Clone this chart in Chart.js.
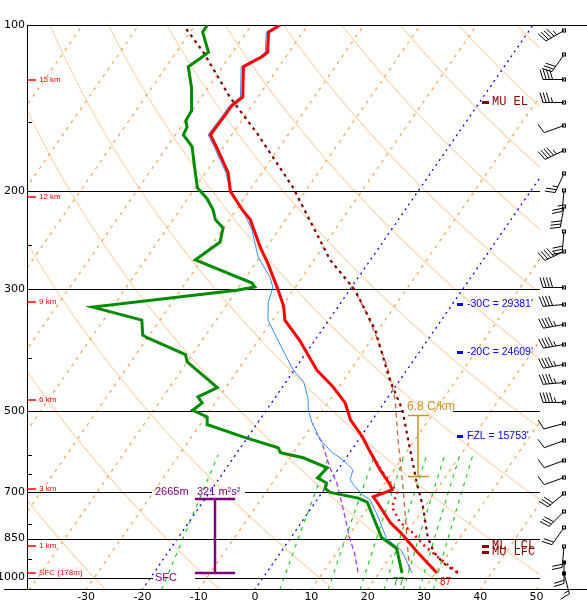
<!DOCTYPE html>
<html>
<head>
<meta charset="utf-8">
<script src="https://cdn.jsdelivr.net/npm/chart.js@4.4.1/dist/chart.umd.min.js"></script>
<style>
html, body { margin: 0; padding: 0; background: #fff; }
canvas { display: block; }
</style>
</head>
<body>
<canvas id="skewt" width="587" height="604"></canvas>
<script>
// skew-T geometry: x = T + SKEW * ln(P_REF / p)
var SKEW = 29.5, P_REF = 1050, P_TOP = 100, P_BOT = 1053;
function skew(t, p) { return t + SKEW * Math.log(P_REF / p); }

// axes
var xTicks = [-30, -20, -10, 0, 10, 20, 30, 40, 50];
var yTicks = [100, 200, 300, 500, 700, 850, 1000];
var minorP = [150, 250, 400, 600, 650, 800, 925];

// background lines
var isotherms = [-140, -130, -120, -110, -100, -90, -80, -70, -60, -50, -40, -30, -10, 10, 20, 30, 40, 50];
var keyIsotherms = [0, -20];
var dryAdiabats = [-30, -10, 10, 30, 50, 70, 90, 110, 130, 150, 170, 190, 210, 230];
var mixRatios = [1, 5, 9, 13, 17, 21, 25, 29];

// temperature
var tempP = [981, 900, 828, 795, 732, 714, 694, 680, 638, 594, 556, 518, 483, 452, 421, 372, 342, 323, 299, 270, 252, 225, 216, 200, 185, 167, 158, 145, 140, 135, 119, 114, 112, 103, 100];
var tempT = [30.3, 24.3, 18.8, 15.8, 11.1, 9.6, 12.1, 11.2, 7.5, 3.7, 0.3, -3.9, -6.9, -11.0, -16.0, -22.7, -27.8, -29.7, -33.1, -37.8, -41.2, -46.3, -48.9, -53.3, -56.0, -61.0, -63.8, -63.6, -63.6, -62.7, -66.3, -64.2, -63.8, -66.1, -64.9];

// dewpoint
var dewP = [981, 885, 846, 777, 730, 718, 701, 689, 674, 660, 633, 607, 594, 582, 557, 529, 512, 498, 483, 471, 453, 407, 395, 368, 364, 342, 324, 302, 298, 293, 266, 247, 233, 225, 216, 206, 197, 181, 166, 158, 153, 149, 143, 130, 119, 115, 112, 103, 100];
var dewT = [24.1, 20.1, 16.1, 12.1, 9.2, 7.1, 1.4, 0.0, -0.4, -2.6, -2.1, -7.6, -12.3, -13.3, -20.7, -28.6, -29.7, -33.1, -32.3, -33.8, -31.5, -40.0, -41.2, -50.1, -51.2, -53.2, -63.5, -40.0, -37.2, -38.2, -51.1, -48.9, -50.1, -52.5, -54.1, -56.6, -59.6, -62.6, -65.6, -68.6, -68.9, -69.9, -70.1, -72.9, -76.1, -75.0, -74.3, -77.8, -77.8];

// wet-bulb
var wetP = [981, 894, 850, 777, 723, 708, 679, 665, 638, 612, 594, 563, 524, 497, 476, 443, 421, 379, 342, 318, 298, 286, 263, 235, 222, 199, 185, 167, 158, 145, 140, 135, 119, 114, 112, 103, 100];
var wetT = [25.9, 21.3, 17.1, 13.0, 9.4, 7.4, 4.6, 3.4, 2.7, -0.3, -3.1, -6.8, -10.4, -12.6, -13.9, -16.8, -20.2, -25.6, -30.8, -32.9, -34.0, -35.7, -40.3, -44.7, -47.5, -53.5, -56.4, -61.4, -64.2, -64.0, -64.0, -63.1, -66.7, -64.6, -64.2, -66.5, -65.3];

// virtual temperature (low levels)
var virtP = [978, 917, 872, 827, 794, 745, 701, 646, 600];
var virtT = [33.9, 28.4, 24.4, 20.8, 17.5, 14.2, 13.3, 8.4, 4.3];

// most-unstable parcel
var parcelP = [981, 941, 900, 846, 745, 675, 606, 563, 497, 439, 356, 302, 266, 197, 157, 135, 112, 101];
var parcelT = [34.0, 30.2, 27.2, 24.3, 19.7, 15.7, 11.6, 8.8, 4.1, -1.8, -10.6, -19.0, -27.2, -42.6, -55.7, -65.0, -75.2, -81.5];

// second parcel (thin brown)
var parcel2P = [968, 846, 694, 563, 477, 421, 372, 328, 296];
var parcel2T = [25.0, 20.6, 14.1, 7.0, 1.6, -3.3, -8.8, -14.8, -20.2];

// downdraft parcel
var downP = [978, 905, 846, 754, 715, 675, 632, 569, 546];
var downT = [16.2, 13.3, 10.4, 5.9, 3.8, 1.5, -1.7, -6.2, -8.5];

// heights
var kmText = ['15 km', '12 km', '9 km', '6 km', '3 km', '1 km', 'SFC (178m)'];
var kmP = [126, 205, 317, 477, 691, 876, 981];

// winds
var windP = [102, 113, 125, 138, 152, 168, 185, 199, 213, 236, 256, 298, 320, 348, 378, 410, 442, 482, 525, 563, 612, 657, 702, 757, 810, 877, 937, 981];
var windDir = [240, 215, 270, 270, 250, 245, 205, 185, 190, 185, 245, 270, 265, 260, 260, 260, 265, 270, 255, 250, 250, 250, 230, 225, 215, 185, 180, 165];
var windSpd = [45, 30, 40, 35, 10, 45, 25, 25, 30, 30, 45, 40, 40, 45, 45, 45, 45, 45, 10, 10, 10, 10, 30, 30, 20, 20, 20, 15];

function series(ps, ts) {
    return ps.map(function (p, i) { return { x: skew(ts[i], p), y: p }; });
}

var SANS = 'Arial, "Liberation Sans", sans-serif';
var MONO = '"Liberation Mono", "Courier New", monospace';

function drawBarb(ctx, x0, y0, dir, spd, filled) {
    var L = 21, F = 10, S = 3.2;
    var r = dir * Math.PI / 180;
    var ux = Math.sin(r), uy = -Math.cos(r);
    var vx = -uy, vy = ux;
    var ex = x0 + ux * L, ey = y0 + uy * L;
    ctx.beginPath();
    ctx.moveTo(x0, y0);
    ctx.lineTo(ex, ey);
    var s = Math.round(spd / 5) * 5, d = 0;
    while (s >= 50) {
        ctx.moveTo(ex - ux * d, ey - uy * d);
        ctx.lineTo(ex - ux * d + vx * F + ux * 2, ey - uy * d + vy * F + uy * 2);
        ctx.lineTo(ex - ux * (d + 5), ey - uy * (d + 5));
        d += 6; s -= 50;
    }
    while (s >= 10) {
        ctx.moveTo(ex - ux * d, ey - uy * d);
        ctx.lineTo(ex - ux * d + vx * F + ux * 3, ey - uy * d + vy * F + uy * 3);
        d += S; s -= 10;
    }
    if (s >= 5) {
        if (d === 0) d = S;
        ctx.moveTo(ex - ux * d, ey - uy * d);
        ctx.lineTo(ex - ux * d + vx * F / 2 + ux * 1.5, ey - uy * d + vy * F / 2 + uy * 1.5);
    }
    ctx.stroke();
    if (filled) ctx.fillRect(x0 - 2, y0 - 2, 4, 4);
    else ctx.strokeRect(x0 - 1.5, y0 - 1.5, 3, 3);
}

var skewBackground = {
    id: 'skewBackground',
    beforeDatasetsDraw: function (chart) {
        var ctx = chart.ctx, a = chart.chartArea, xs = chart.scales.x, ys = chart.scales.y;
        function px(t, p) { return xs.getPixelForValue(skew(t, p)); }
        function py(p) { return ys.getPixelForValue(p); }
        ctx.save();
        ctx.beginPath();
        ctx.rect(a.left, a.top, a.right - a.left, a.bottom - a.top);
        ctx.clip();

        // dry adiabats
        ctx.strokeStyle = '#fdd9b8';
        ctx.lineWidth = 1.3;
        ctx.setLineDash([]);
        dryAdiabats.forEach(function (th) {
            ctx.beginPath();
            for (var i = 0; i <= 60; i++) {
                var p = P_TOP * Math.pow(P_BOT / P_TOP, i / 60);
                var t = (th + 273.15) * Math.pow(p / 1000, 0.2857) - 273.15;
                if (i) ctx.lineTo(px(t, p), py(p)); else ctx.moveTo(px(t, p), py(p));
            }
            ctx.stroke();
        });

        // isotherms
        ctx.strokeStyle = '#f8a048';
        ctx.lineWidth = 1.2;
        ctx.setLineDash([3, 5]);
        isotherms.forEach(function (t) {
            ctx.beginPath();
            ctx.moveTo(px(t, P_BOT), py(P_BOT));
            ctx.lineTo(px(t, P_TOP), py(P_TOP));
            ctx.stroke();
        });

        // mixing ratio lines
        ctx.strokeStyle = '#11cc11';
        ctx.lineWidth = 1.1;
        ctx.setLineDash([4, 5]);
        mixRatios.forEach(function (w) {
            ctx.beginPath();
            for (var i = 0; i <= 10; i++) {
                var p = P_BOT - (P_BOT - 600) * i / 10;
                var e = w * p / (622 + w);
                var l = Math.log(e / 6.112);
                var td = 243.5 * l / (17.67 - l);
                if (i) ctx.lineTo(px(td, p), py(p)); else ctx.moveTo(px(td, p), py(p));
            }
            ctx.stroke();
        });

        // 0 and -20 C isotherms
        ctx.strokeStyle = '#0000ff';
        ctx.lineWidth = 1.3;
        ctx.setLineDash([2, 4]);
        keyIsotherms.forEach(function (t) {
            ctx.beginPath();
            ctx.moveTo(px(t, P_BOT), py(P_BOT));
            ctx.lineTo(px(t, P_TOP), py(P_TOP));
            ctx.stroke();
        });
        ctx.restore();

        // isobars
        var gaps = { 500: [402, 453], 700: [152, 245], 1000: [153, 195] };
        ctx.save();
        ctx.strokeStyle = '#000';
        ctx.lineWidth = 1;
        ctx.setLineDash([]);
        yTicks.forEach(function (p) {
            if (p === 100) return;
            var y = Math.round(py(p)) + 0.5;
            ctx.beginPath();
            if (gaps[p]) {
                ctx.moveTo(a.left, y); ctx.lineTo(gaps[p][0], y);
                ctx.moveTo(gaps[p][1], y); ctx.lineTo(a.right, y);
            } else {
                ctx.moveTo(a.left, y); ctx.lineTo(a.right, y);
            }
            ctx.stroke();
        });
        // frame
        ctx.beginPath();
        ctx.moveTo(a.left, Math.round(a.top) + 0.5);
        ctx.lineTo(chart.width, Math.round(a.top) + 0.5);
        ctx.moveTo(a.left + 0.5, a.top);
        ctx.lineTo(a.left + 0.5, a.bottom);
        ctx.moveTo(4, Math.round(a.bottom) - 0.5);
        ctx.lineTo(chart.width, Math.round(a.bottom) - 0.5);
        ctx.stroke();
        minorP.forEach(function (p) {
            var y = Math.round(py(p)) + 0.5;
            ctx.beginPath();
            ctx.moveTo(a.left, y); ctx.lineTo(a.left + 5, y);
            ctx.stroke();
        });
        ctx.restore();
    }
};

var skewLabels = {
    id: 'skewLabels',
    afterDatasetsDraw: function (chart) {
        var ctx = chart.ctx, a = chart.chartArea, xs = chart.scales.x, ys = chart.scales.y;
        function px(t, p) { return xs.getPixelForValue(skew(t, p)); }
        function py(p) { return ys.getPixelForValue(p); }
        ctx.save();
        ctx.textBaseline = 'middle';
        ctx.textAlign = 'left';

        // height labels
        ctx.fillStyle = '#ff0000';
        ctx.strokeStyle = '#ff0000';
        ctx.lineWidth = 1.5;
        ctx.font = '8px ' + SANS;
        kmText.forEach(function (txt, i) {
            var y = Math.round(py(kmP[i]));
            ctx.beginPath();
            ctx.moveTo(a.left, y); ctx.lineTo(a.left + 9, y);
            ctx.stroke();
            ctx.fillText(txt, a.left + 12, y);
        });

        // freezing level / isotherm heights
        ctx.fillStyle = '#0000ff';
        ctx.font = '10.5px ' + SANS;
        [['-30C = 29381\'', 320], ['-20C = 24609\'', 390], ['FZL = 15753\'', 555]].forEach(function (l) {
            var y = Math.round(py(l[1]));
            ctx.fillRect(457, y - 1, 6, 3);
            ctx.fillText(l[0], 467, y);
        });

        // parcel levels
        ctx.fillStyle = '#8b0000';
        ctx.font = '12px ' + MONO;
        [['MU EL', 138], ['ML LCL', 876], ['MU LFC', 899]].forEach(function (l) {
            var y = Math.round(py(l[1]));
            ctx.fillRect(482, y - 1, 7, 3);
            ctx.fillText(l[0], 492, y);
        });

        // lapse rate bar
        ctx.strokeStyle = '#d09020';
        ctx.fillStyle = '#d09020';
        ctx.lineWidth = 1.5;
        var yt = Math.round(py(508)) + 0.5, yb = Math.round(py(655)) + 0.5;
        ctx.beginPath();
        ctx.moveTo(418, yt); ctx.lineTo(418, yb);
        ctx.moveTo(408, yt); ctx.lineTo(429, yt);
        ctx.moveTo(408, yb); ctx.lineTo(429, yb);
        ctx.stroke();
        ctx.font = '12px ' + SANS;
        ctx.fillText('6.8 C/km', 407, Math.round(py(492)));

        // storm relative helicity bar
        ctx.strokeStyle = '#800080';
        ctx.fillStyle = '#800080';
        ctx.lineWidth = 2.5;
        var st = Math.round(py(722)), sb = Math.round(py(981));
        ctx.beginPath();
        ctx.moveTo(215, st); ctx.lineTo(215, sb);
        ctx.moveTo(195, st); ctx.lineTo(235, st);
        ctx.moveTo(195, sb); ctx.lineTo(235, sb);
        ctx.stroke();
        ctx.font = '11px ' + SANS;
        ctx.fillText('2665m', 155, Math.round(py(700)));
        ctx.fillText('321 m\u00b2s\u00b2', 197, Math.round(py(700)));
        ctx.fillText('SFC', 155, Math.round(py(1000)));

        // surface values (F)
        ctx.font = '10px ' + SANS;
        ctx.fillStyle = '#ff0000';
        ctx.fillText('87', px(tempT[0], tempP[0]) + 3, Math.round(py(1000)) + 4);
        ctx.fillStyle = '#008800';
        ctx.fillText('77', px(dewT[0], dewP[0]) - 9, Math.round(py(1000)) + 4);

        // wind barbs
        ctx.strokeStyle = '#000';
        ctx.fillStyle = '#000';
        ctx.lineWidth = 1;
        var bx = a.right + 24;
        windP.forEach(function (p, i) {
            drawBarb(ctx, bx, Math.round(py(p)) + 0.5, windDir[i], windSpd[i], i >= windP.length - 2);
        });
        ctx.restore();
    }
};

var axisFont = { family: '"DejaVu Sans", sans-serif', size: 11 };

new Chart(document.getElementById('skewt').getContext('2d'), {
    type: 'scatter',
    data: {
        datasets: [
            { label: 'Temperature', data: series(tempP, tempT), borderColor: '#ff0000', borderWidth: 3, order: 1 },
            { label: 'Dewpoint', data: series(dewP, dewT), borderColor: '#008c00', borderWidth: 3, order: 2 },
            { label: 'Virtual temperature', data: series(virtP, virtT), borderColor: '#ff0000', borderWidth: 2.5, borderDash: [2, 4], order: 0 },
            { label: 'Wet-bulb', data: series(wetP, wetT), borderColor: '#2f8fff', borderWidth: 1, order: 3 },
            { label: 'MU parcel', data: series(parcelP, parcelT), borderColor: '#800000', borderWidth: 2.2, borderDash: [3, 4], order: 4 },
            { label: 'Parcel', data: series(parcel2P, parcel2T), borderColor: '#c8643c', borderWidth: 1.3, borderDash: [5, 4], order: 5 },
            { label: 'Downdraft', data: series(downP, downT), borderColor: '#9933ee', borderWidth: 1.2, borderDash: [5, 3], order: 5 }
        ].map(function (d) {
            d.showLine = true; d.pointRadius = 0; d.fill = false; d.tension = 0;
            return d;
        })
    },
    options: {
        responsive: false,
        animation: false,
        events: [],
        layout: { padding: { top: 25, right: 47, left: 0, bottom: 0 } },
        plugins: { legend: { display: false }, tooltip: { enabled: false } },
        scales: {
            x: {
                type: 'linear', min: -40.5, max: 50.6,
                grid: { display: false, drawTicks: false },
                border: { display: false },
                afterBuildTicks: function (s) { s.ticks = xTicks.map(function (v) { return { value: v }; }); },
                afterFit: function (s) { s.height = 14; },
                ticks: { font: axisFont, color: '#000', padding: 1, maxRotation: 0, autoSkip: false }
            },
            y: {
                type: 'logarithmic', reverse: true, min: P_TOP, max: P_BOT,
                grid: { display: false, drawTicks: false },
                border: { display: false },
                afterBuildTicks: function (s) { s.ticks = yTicks.map(function (v) { return { value: v }; }); },
                afterFit: function (s) { s.width = 27; },
                ticks: { font: axisFont, color: '#000', padding: 2, autoSkip: false, callback: function (v) { return String(v); } }
            }
        }
    },
    plugins: [skewBackground, skewLabels]
});
</script>
</body>
</html>
